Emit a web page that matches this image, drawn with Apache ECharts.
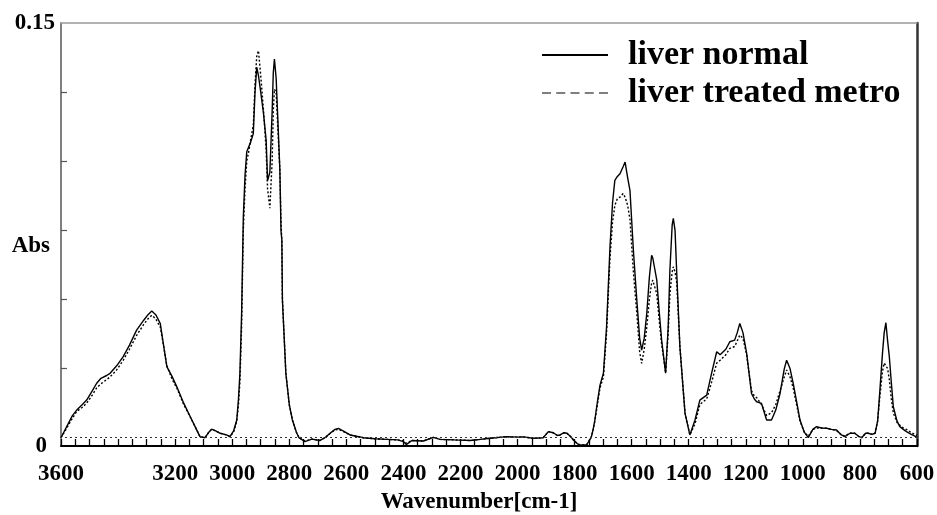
<!DOCTYPE html>
<html>
<head>
<meta charset="utf-8">
<script src="https://cdn.jsdelivr.net/npm/echarts@6/dist/echarts.min.js"></script>
<style>
html,body{margin:0;padding:0;background:#fff;}
#chart{width:937px;height:515px;}
</style>
</head>
<body>
<div id="chart"></div>
<script>
// Wavenumbers (cm-1)
var wavenumbers = [3600,3580,3560,3545,3525,3510,3490,3475,3460,3440,3428,3405,3382,3360,3335,3310,3295,3282,3268,3252,3240,3229,3210,3194,3170,3147,3130,3113,3095,3082,3072,3058,3042,3020,3008,2995,2984,2978,2973,2967,2961,2955,2949,2943,2935,2926,2920,2914,2908,2900,2890,2881,2876,2868,2860,2856,2852,2846,2840,2833,2829,2826,2824,2812,2800,2789,2775,2766,2745,2721,2692,2675,2657,2640,2628,2610,2587,2540,2500,2458,2420,2400,2390,2370,2330,2295,2272,2220,2166,2130,2096,2038,2000,1980,1945,1910,1892,1875,1860,1851,1838,1827,1815,1804,1790,1781,1758,1748,1741,1735,1729,1720,1711,1699,1688,1676,1667,1659,1650,1641,1630,1623,1614,1606,1594,1582,1572,1565,1556,1547,1538,1530,1526,1512,1503,1495,1481,1472,1466,1458,1454,1448,1442,1431,1413,1396,1378,1361,1337,1320,1302,1290,1285,1270,1256,1239,1230,1221,1210,1197,1180,1170,1162,1145,1127,1110,1095,1080,1065,1057,1045,1034,1020,1010,995,981,965,952,935,917,900,882,865,853,835,818,805,794,780,771,758,747,738,730,721,715,709,703,697,690,683,670,660,648,637,620,604,600];
// Absorbance, liver normal (solid)
var liverNormal = [0.000,0.004,0.008,0.010,0.012,0.0136,0.017,0.0197,0.0215,0.0225,0.0233,0.026,0.0293,0.0335,0.0389,0.0425,0.0445,0.0458,0.0445,0.0413,0.033,0.0257,0.022,0.0184,0.0125,0.0076,0.004,0.0004,0.000,0.002,0.0031,0.0025,0.0016,0.001,0.0004,0.0025,0.0064,0.014,0.0233,0.045,0.0799,0.095,0.1034,0.104,0.107,0.110,0.125,0.134,0.131,0.125,0.117,0.1076,0.093,0.096,0.118,0.132,0.137,0.130,0.115,0.097,0.075,0.0714,0.0498,0.0233,0.012,0.0064,0.002,0.000,-0.0014,-0.0005,-0.001,0.000,0.0016,0.003,0.0034,0.0024,0.001,0.000,-0.0004,-0.0006,-0.0008,-0.0014,-0.0025,-0.001,-0.0012,0.0001,-0.0006,-0.0008,-0.001,-0.0006,-0.0002,0.0004,0.0002,0.0003,-0.0002,0.000,0.0022,0.0018,0.0008,0.001,0.0018,0.0016,0.0005,-0.0008,-0.0022,-0.0026,-0.0026,-0.001,0.0004,0.003,0.0064,0.013,0.019,0.0233,0.040,0.069,0.085,0.0931,0.0945,0.0955,0.098,0.0997,0.094,0.0895,0.0678,0.0498,0.036,0.0317,0.036,0.045,0.058,0.066,0.065,0.057,0.045,0.0353,0.0233,0.040,0.0606,0.077,0.0793,0.075,0.0594,0.0329,0.0088,0.001,0.0064,0.0136,0.0154,0.0233,0.0311,0.030,0.0293,0.032,0.0347,0.0353,0.038,0.0413,0.038,0.0305,0.016,0.014,0.013,0.0124,0.0064,0.0064,0.010,0.016,0.025,0.028,0.025,0.0197,0.012,0.0064,0.002,0.000,0.003,0.004,0.0035,0.0034,0.003,0.0028,0.001,0.0004,0.0016,0.0016,0.0005,0.000,0.0016,0.0016,0.0012,0.0016,0.006,0.0172,0.0305,0.038,0.0416,0.035,0.0293,0.020,0.0112,0.006,0.004,0.003,0.0022,0.0012,0.0004,0.0003];
// Absorbance, liver treated metro (dashed)
var liverTreated = [0.000,0.0035,0.007,0.0095,0.011,0.0125,0.0155,0.018,0.0195,0.021,0.022,0.0245,0.028,0.032,0.037,0.041,0.043,0.0443,0.043,0.040,0.033,0.026,0.021,0.018,0.012,0.0075,0.004,0.0004,0.000,0.002,0.003,0.0025,0.0016,0.001,0.0004,0.002,0.006,0.012,0.020,0.040,0.075,0.090,0.100,0.103,0.108,0.113,0.128,0.138,0.140,0.131,0.118,0.104,0.090,0.083,0.100,0.118,0.126,0.125,0.112,0.097,0.078,0.071,0.050,0.0235,0.012,0.0064,0.002,0.000,-0.0012,-0.0005,-0.001,0.000,0.0015,0.0028,0.003,0.0022,0.001,0.000,-0.0004,-0.0006,-0.0008,-0.0012,-0.002,-0.001,-0.0012,0.0001,-0.0006,-0.0008,-0.001,-0.0006,-0.0002,0.0004,0.0002,0.0003,-0.0002,0.000,0.0022,0.0018,0.0008,0.001,0.0018,0.0016,0.0005,-0.0008,-0.0022,-0.0026,-0.0026,-0.001,0.0004,0.003,0.006,0.012,0.018,0.022,0.038,0.065,0.078,0.084,0.0865,0.087,0.0883,0.087,0.084,0.079,0.060,0.045,0.031,0.0269,0.032,0.040,0.050,0.056,0.057,0.052,0.042,0.034,0.0235,0.038,0.052,0.060,0.0618,0.060,0.056,0.033,0.009,0.001,0.005,0.012,0.014,0.020,0.027,0.028,0.0285,0.030,0.0323,0.033,0.035,0.0371,0.036,0.030,0.017,0.015,0.0145,0.012,0.008,0.009,0.012,0.017,0.022,0.0245,0.022,0.018,0.011,0.006,0.002,0.0005,0.003,0.0035,0.0035,0.0034,0.003,0.0026,0.001,0.0006,0.0016,0.0016,0.0005,0.000,0.0016,0.0016,0.0012,0.0016,0.006,0.015,0.024,0.027,0.0269,0.025,0.021,0.014,0.009,0.0055,0.0045,0.0035,0.003,0.0018,0.001,0.0008];
// Tick labels
var xTickLabels = [3600,3200,3000,2800,2600,2400,2200,2000,1800,1600,1400,1200,1000,800,600];
var yTickLabels = ['0', '0.15'];
var seriesNames = ['liver normal', 'liver treated metro'];

var xMin = 600, xMax = 3600, xStep = 50, yMin = -0.003, yMax = 0.15;
var yTickMarks = [0.025, 0.05, 0.075, 0.1, 0.125];

var font = 'Liberation Serif, Times New Roman, serif';
function pairs(vals){ return wavenumbers.map(function(w,i){ return [w, vals[i]]; }); }

var chart = echarts.init(document.getElementById('chart'), null, {renderer:'canvas'});
chart.setOption({
  animation: false,
  backgroundColor: '#fff',
  grid: {left: 61, right: 20, top: 23, bottom: 69, containLabel: false, outerBoundsMode: 'none'},
  legend: {
    orient: 'vertical', left: 537, top: 33,
    itemWidth: 66, itemHeight: 2, itemGap: 4,
    textStyle: {fontFamily: font, fontWeight: 'bold', fontSize: 34, color: '#000', padding: [0,0,0,15]},
    data: [
      {name: seriesNames[0], icon: 'rect', itemStyle: {color: '#000', borderWidth: 0}},
      {name: seriesNames[1], icon: 'path://M0,0h9v1h-9z M14.25,0h9v1h-9z M28.5,0h9v1h-9z M42.75,0h9v1h-9z M57,0h9v1h-9z', itemStyle: {color: '#000', borderWidth: 0}}
    ]
  },
  xAxis: [{
    type: 'value', min: xMin, max: xMax, interval: xStep, inverse: true, position: 'bottom',
    axisLine: {show: true, onZero: false, lineStyle: {color: '#000', width: 2}},
    axisTick: {show: true, inside: true, length: 7, lineStyle: {color: '#000', width: 1.3}},
    axisLabel: {customValues: xTickLabels, fontFamily: font, fontWeight: 'bold', fontSize: 23, color: '#000', margin: 17,
      formatter: function(v){ return String(v); }},
    splitLine: {show: false},
    name: 'Wavenumber[cm-1]', nameLocation: 'middle', nameGap: 45, nameMoveOverlap: false,
    nameTextStyle: {fontFamily: font, fontWeight: 'bold', fontSize: 23, color: '#000', padding: [0, 20, 0, 0]}
  }, {
    type: 'value', min: xMin, max: xMax, inverse: true, position: 'top',
    axisLine: {show: true, onZero: false, lineStyle: {color: '#999', width: 1.5}},
    axisTick: {show: false}, axisLabel: {show: false}, splitLine: {show: false}
  }],
  yAxis: [{
    type: 'value', min: yMin, max: yMax, position: 'left',
    axisLine: {show: true, onZero: false, lineStyle: {color: '#555', width: 1.5}},
    axisTick: {show: true, inside: true, length: 6, customValues: yTickMarks, lineStyle: {color: '#555', width: 1.2}},
    axisLabel: {
      customValues: [yMin, yMax], margin: 6,
      fontFamily: font, fontWeight: 'bold', fontSize: 23, color: '#000',
      formatter: function(v){ return v < 0.001 ? '{z|' + yTickLabels[0] + '}' : yTickLabels[1]; },
      rich: {z: {fontFamily: font, fontWeight: 'bold', fontSize: 23, color: '#000', padding: [0, 8, 0, 0]}}
    },
    splitLine: {show: false},
    name: 'Abs', nameLocation: 'middle', nameRotate: 0, nameGap: 11, nameMoveOverlap: false,
    nameTextStyle: {fontFamily: font, fontWeight: 'bold', fontSize: 23, color: '#000', align: 'right', verticalAlign: 'top'}
  }, {
    type: 'value', min: yMin, max: yMax, position: 'right',
    axisLine: {show: true, onZero: false, lineStyle: {color: '#333', width: 2.5}},
    axisTick: {show: false}, axisLabel: {show: false}, splitLine: {show: false}
  }],
  series: [{
    name: seriesNames[1], type: 'line', symbol: 'none', showSymbol: false,
    data: pairs(liverTreated),
    lineStyle: {color: '#000', width: 1.4, type: [2, 2]},
    itemStyle: {color: '#000'},
    markLine: {
      silent: true, symbol: 'none', label: {show: false},
      lineStyle: {color: '#333', width: 1, type: [2, 3]},
      data: [{yAxis: 0}]
    },
    z: 2
  }, {
    name: seriesNames[0], type: 'line', symbol: 'none', showSymbol: false,
    data: pairs(liverNormal),
    lineStyle: {color: '#000', width: 1.4, type: 'solid'},
    itemStyle: {color: '#000'},
    z: 3
  }]
});
</script>
</body>
</html>
